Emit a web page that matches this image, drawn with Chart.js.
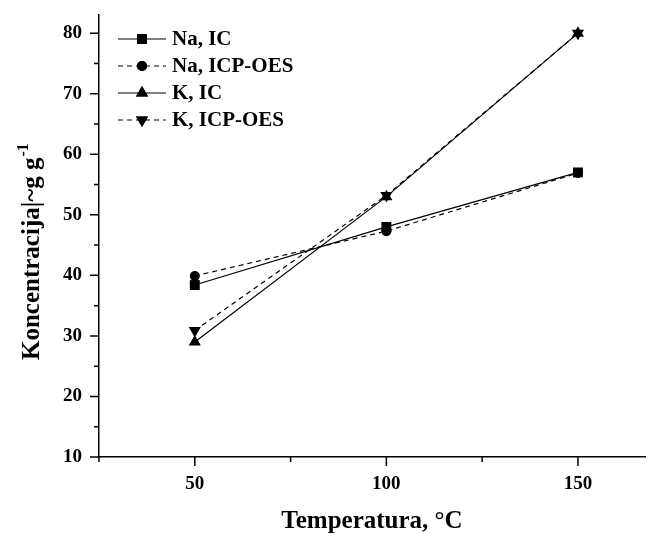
<!DOCTYPE html>
<html>
<head>
<meta charset="utf-8">
<script src="https://cdn.jsdelivr.net/npm/chart.js@4"></script>
<style>
  html, body { margin: 0; padding: 0; background: #fff; }
  #wrap { width: 652px; height: 533px; }
</style>
</head>
<body>
<div id="wrap"><canvas id="conc_chart" width="652" height="533"></canvas></div>
<script>
// values
const temperatures = [50, 100, 150];
const naIC = [38.4, 48.0, 57.0];
const naICPOES = [39.9, 47.3, 56.9];
const kIC = [29.0, 53.0, 80.0];
const kICPOES = [30.9, 53.2, 80.0];

const seriesLabels = ["Na, IC", "Na, ICP-OES", "K, IC", "K, ICP-OES"];
const xTicks = [25, 50, 75, 100, 125, 150];
const yTicks = [10, 15, 20, 25, 30, 35, 40, 45, 50, 55, 60, 65, 70, 75, 80];

const FONT = "'Liberation Serif', 'Times New Roman', serif";

const toPoints = (ys) => temperatures.map((t, i) => ({ x: t, y: ys[i] }));

// minor / major tick marks drawn outward from the axes
const tickPlugin = {
  id: "ticks",
  afterDraw(chart) {
    const ctx = chart.ctx;
    const xs = chart.scales.x, ys = chart.scales.y;
    ctx.save();
    ctx.strokeStyle = "#000";
    ctx.lineWidth = 1.5;
    ctx.beginPath();
    xTicks.forEach((v) => {
      const px = xs.getPixelForValue(v);
      const len = v % 50 === 0 ? 9 : 5;
      ctx.moveTo(px, xs.top);
      ctx.lineTo(px, xs.top + len);
    });
    yTicks.forEach((v) => {
      const py = ys.getPixelForValue(v);
      const len = v % 10 === 0 ? 9 : 5;
      ctx.moveTo(ys.right, py);
      ctx.lineTo(ys.right - len, py);
    });
    ctx.stroke();
    ctx.restore();
  },
};

// y title with the superscript as it appears in the figure
const yTitlePlugin = {
  id: "ytitle",
  afterDraw(chart) {
    const ctx = chart.ctx;
    ctx.save();
    ctx.translate(39, 360);
    ctx.rotate(-Math.PI / 2);
    ctx.fillStyle = "#000";
    ctx.textBaseline = "alphabetic";
    ctx.textAlign = "left";
    ctx.font = "bold 25px " + FONT;
    const main = "Koncentracija|~g g";
    ctx.fillText(main, 0, 0);
    const w = ctx.measureText(main).width;
    ctx.font = "bold 16px " + FONT;
    ctx.fillText("-1", w + 1, -11);
    ctx.restore();
  },
};

// legend: line + marker + label, like the original
const legendPlugin = {
  id: "lineLegend",
  afterDraw(chart) {
    const ctx = chart.ctx;
    const area = chart.chartArea;
    const x0 = area.left + 19, x1 = area.left + 67;
    ctx.save();
    chart.data.datasets.forEach((ds, i) => {
      const y = area.top + 24 + i * 27;
      ctx.strokeStyle = "#000";
      ctx.lineWidth = 1.2;
      ctx.setLineDash(ds.borderDash || []);
      ctx.beginPath();
      ctx.moveTo(x0, y);
      ctx.lineTo(x1, y);
      ctx.stroke();
      ctx.setLineDash([]);
      ctx.fillStyle = "#000";
      Chart.helpers.drawPoint(ctx, {
        pointStyle: ds.pointStyle,
        rotation: ds.pointRotation || 0,
        radius: ds.pointRadius,
        borderWidth: 0,
      }, (x0 + x1) / 2, y);
      ctx.fill();
      ctx.font = "bold 21px " + FONT;
      ctx.textBaseline = "middle";
      ctx.textAlign = "left";
      ctx.fillText(ds.label, x1 + 6, y + 1);
    });
    ctx.restore();
  },
};

const makeSet = (label, ys, style, dashed, radius, rotation) => ({
  label: label,
  data: toPoints(ys),
  borderColor: "#000",
  backgroundColor: "#000",
  borderWidth: 1.2,
  borderDash: dashed ? [5, 4] : [],
  pointStyle: style,
  pointRadius: radius,
  pointRotation: rotation || 0,
  pointBorderWidth: 0,
  pointBackgroundColor: "#000",
  tension: 0,
});

const ctx = document.getElementById("conc_chart").getContext("2d");

let configuration = {
  type: "line",
  data: {
    datasets: [
      makeSet(seriesLabels[0], naIC, "rect", false, 7),
      makeSet(seriesLabels[1], naICPOES, "circle", true, 5),
      makeSet(seriesLabels[2], kIC, "triangle", false, 7),
      makeSet(seriesLabels[3], kICPOES, "triangle", true, 7, 180),
    ],
  },
  options: {
    responsive: false,
    animation: false,
    devicePixelRatio: 1,
    layout: { padding: { left: 0, right: 2, top: 15, bottom: 0 } },
    plugins: {
      legend: { display: false },
      tooltip: { enabled: false },
    },
    scales: {
      x: {
        type: "linear",
        min: 25,
        max: 167.5,
        afterBuildTicks: (scale) => {
          scale.ticks = xTicks.map((v) => ({ value: v }));
        },
        afterFit: (scale) => {
          scale.height = 76;
          scale.paddingLeft = 0;
          scale.paddingRight = 0;
        },
        ticks: {
          color: "#000",
          padding: 16,
          maxRotation: 0,
          font: { family: FONT, size: 19, weight: "bold" },
          callback: (v) => (v % 50 === 0 ? v : ""),
        },
        grid: { display: true, drawOnChartArea: false, drawTicks: false },
        border: { display: true, color: "#000", width: 1.5 },
        title: {
          display: true,
          text: "Temperatura, °C",
          color: "#000",
          font: { family: FONT, size: 25, weight: "bold" },
          padding: { top: -4, bottom: -4 },
        },
      },
      y: {
        min: 10,
        max: 83,
        afterBuildTicks: (scale) => {
          scale.ticks = yTicks.map((v) => ({ value: v }));
        },
        afterFit: (scale) => {
          scale.width = 99;
          scale.paddingTop = 0;
          scale.paddingBottom = 0;
        },
        ticks: {
          color: "#000",
          padding: 17,
          font: { family: FONT, size: 19, weight: "bold" },
          callback: (v) => (v % 10 === 0 ? v : ""),
        },
        grid: { display: true, drawOnChartArea: false, drawTicks: false },
        border: { display: true, color: "#000", width: 1.5 },
      },
    },
  },
  plugins: [tickPlugin, yTitlePlugin, legendPlugin],
};

let chart = new Chart(ctx, configuration);
</script>
</body>
</html>
